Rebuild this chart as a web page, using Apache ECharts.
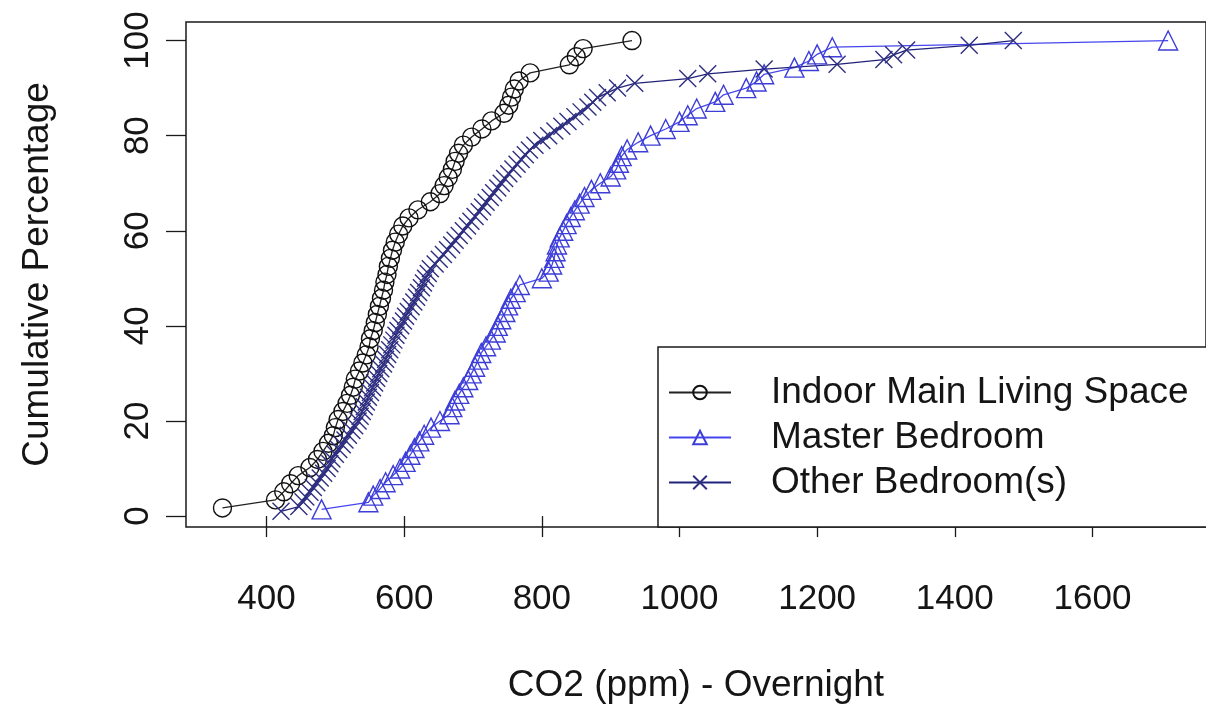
<!DOCTYPE html>
<html>
<head>
<meta charset="utf-8">
<title>CO2 (ppm) - Overnight</title>
<script src="https://cdn.jsdelivr.net/npm/echarts@6/dist/echarts.min.js"></script>
<style>
  html, body { margin: 0; padding: 0; background: #ffffff; }
  #chart { width: 1206px; height: 709px; }
</style>
</head>
<body>
<div id="chart"></div>
<script>
// Overnight CO2 readings (ppm) sorted, with their cumulative percentage
const livingCO2 = [336, 413, 425, 435, 446, 463, 474, 482, 490, 497,
  500, 504, 511, 517, 522, 526, 529, 535, 540, 545,
  549, 551, 555, 558, 561, 564, 567, 570, 572, 575,
  577, 580, 583, 587, 592, 598, 607, 620, 638, 652,
  658, 664, 670, 674, 679, 686, 698, 713, 727, 745,
  752, 756, 760, 767, 783, 840, 850, 860, 931];
const livingPct = [1.7, 3.4, 5.1, 6.8, 8.5, 10.2, 11.9, 13.6, 15.3, 16.9,
  18.6, 20.3, 22.0, 23.7, 25.4, 27.1, 28.8, 30.5, 32.2, 33.9,
  35.6, 37.3, 39.0, 40.7, 42.4, 44.1, 45.8, 47.5, 49.2, 50.8,
  52.5, 54.2, 55.9, 57.6, 59.3, 61.0, 62.7, 64.4, 66.1, 67.8,
  69.5, 71.2, 72.9, 74.6, 76.3, 78.0, 79.7, 81.4, 83.1, 84.7,
  86.4, 88.1, 89.8, 91.5, 93.2, 94.9, 96.6, 98.3, 100];

const masterCO2 = [480, 548, 555, 565, 573, 584, 594, 602, 609, 615,
  622, 629, 639, 652, 666, 670, 674, 680, 686, 693,
  698, 703, 708, 712, 719, 726, 733, 736, 741, 747,
  751, 755, 762, 768, 800, 810, 815, 818, 820, 822,
  826, 831, 836, 842, 848, 855, 862, 872, 885, 900,
  908, 912, 916, 924, 940, 958, 980, 1000, 1012, 1025,
  1052, 1064, 1097, 1112, 1123, 1167, 1188, 1200, 1222, 1710];
const masterPct = [1.4, 2.9, 4.3, 5.7, 7.1, 8.6, 10.0, 11.4, 12.9, 14.3,
  15.7, 17.1, 18.6, 20.0, 21.4, 22.9, 24.3, 25.7, 27.1, 28.6,
  30.0, 31.4, 32.9, 34.3, 35.7, 37.1, 38.6, 40.0, 41.4, 42.9,
  44.3, 45.7, 47.1, 48.6, 50.0, 51.4, 52.9, 54.3, 55.7, 57.1,
  58.6, 60.0, 61.4, 62.9, 64.3, 65.7, 67.1, 68.6, 70.0, 71.4,
  72.9, 74.3, 75.7, 77.1, 78.6, 80.0, 81.4, 82.9, 84.3, 85.7,
  87.1, 88.6, 90.0, 91.4, 92.9, 94.3, 95.7, 97.1, 98.6, 100];

const otherCO2 = [421, 447, 453, 457, 463, 468, 473, 478, 483, 488,
  492, 495, 500, 505, 510, 514, 519, 524, 528, 533,
  536, 539, 542, 545, 548, 551, 554, 557, 560, 563,
  566, 570, 573, 576, 579, 582, 585, 588, 591, 595,
  599, 602, 606, 610, 614, 618, 621, 625, 628, 631,
  635, 638, 645, 651, 657, 663, 669, 674, 680, 686,
  692, 697, 703, 709, 714, 719, 725, 730, 736, 741,
  746, 752, 758, 764, 770, 776, 782, 790, 800, 810,
  819, 829, 838, 848, 857, 867, 874, 881, 895, 910,
  935, 1012, 1041, 1123, 1229, 1297, 1311, 1330, 1421, 1485];
const otherPct = [1, 2, 3, 4, 5, 6, 7, 8, 9, 10,
  11, 12, 13, 14, 15, 16, 17, 18, 19, 20,
  21, 22, 23, 24, 25, 26, 27, 28, 29, 30,
  31, 32, 33, 34, 35, 36, 37, 38, 39, 40,
  41, 42, 43, 44, 45, 46, 47, 48, 49, 50,
  51, 52, 53, 54, 55, 56, 57, 58, 59, 60,
  61, 62, 63, 64, 65, 66, 67, 68, 69, 70,
  71, 72, 73, 74, 75, 76, 77, 78, 79, 80,
  81, 82, 83, 84, 85, 86, 87, 88, 89, 90,
  91, 92, 93, 94, 95, 96, 97, 98, 99, 100];

const seriesNames = ['Indoor Main Living Space', 'Master Bedroom', 'Other Bedroom(s)'];
const xTicks = [400, 600, 800, 1000, 1200, 1400, 1600];
const yTicks = [0, 20, 40, 60, 80, 100];

const FONT = "'Liberation Sans', Arial, Helvetica, sans-serif";
const INK = '#151515';

function pairs(xs, ys) {
  return xs.map((x, i) => [x, ys[i]]);
}

function lineSeries(name, data, symbol, size, markerColor, lineColor) {
  return {
    name: name,
    type: 'line',
    data: data,
    symbol: symbol,
    symbolSize: size,
    showAllSymbol: true,
    clip: false,
    lineStyle: { color: lineColor, width: 1.3 },
    itemStyle: { color: 'rgba(0,0,0,0)', borderColor: markerColor, borderWidth: 1.4 },
    emphasis: { disabled: true }
  };
}

const plainNumber = (v) => String(v);

const chart = echarts.init(document.getElementById('chart'), null, { renderer: 'canvas' });

chart.setOption({
  animation: false,
  backgroundColor: '#ffffff',
  textStyle: { fontFamily: FONT, color: INK },
  grid: {
    left: 186, top: 22, width: 1025, height: 505,
    show: true, borderColor: '#1a1a1a', borderWidth: 1.5,
    backgroundColor: 'rgba(0,0,0,0)'
  },
  // legend frame, running off the right edge of the page like the plot box
  graphic: [{
    type: 'rect',
    x: 658, y: 347, z: 3,
    shape: { x: 0, y: 0, width: 600, height: 180 },
    style: { fill: '#ffffff', stroke: '#1a1a1a', lineWidth: 1.5 }
  }],
  xAxis: {
    type: 'value',
    min: 283, max: 1765,
    name: 'CO2 (ppm) - Overnight',
    nameLocation: 'middle',
    nameGap: 140,
    nameTextStyle: { fontSize: 37, color: INK, fontFamily: FONT },
    axisLine: { show: false },
    splitLine: { show: false },
    axisTick: { show: true, inside: false, length: 21, customValues: xTicks,
      lineStyle: { color: '#1a1a1a', width: 1.3 } },
    axisLabel: { show: true, customValues: xTicks, formatter: plainNumber, margin: 55,
      fontSize: 35, color: INK, fontFamily: FONT }
  },
  yAxis: {
    type: 'value',
    min: -2.3, max: 103.9,
    name: 'Cumulative Percentage',
    nameLocation: 'middle',
    nameGap: 130,
    nameRotate: 90,
    nameTextStyle: { fontSize: 37, color: INK, fontFamily: FONT },
    axisLine: { show: false },
    splitLine: { show: false },
    axisTick: { show: true, inside: false, length: 20, customValues: yTicks,
      lineStyle: { color: '#1a1a1a', width: 1.3 } },
    axisLabel: { show: true, customValues: yTicks, formatter: plainNumber, rotate: 90, margin: 30,
      fontSize: 35, color: INK, fontFamily: FONT }
  },
  legend: {
    show: true,
    orient: 'vertical',
    left: 658, top: 347, z: 5,
    data: seriesNames,
    itemWidth: 62, itemHeight: 17, itemGap: 0,
    padding: [23, 10, 22, 10],
    borderWidth: 0,
    selectedMode: false,
    textStyle: { fontSize: 37, lineHeight: 45, color: INK, fontFamily: FONT, padding: [0, 0, 0, 35] }
  },
  series: [
    lineSeries(seriesNames[0], pairs(livingCO2, livingPct), 'circle', 18, '#111111', '#222222'),
    lineSeries(seriesNames[1], pairs(masterCO2, masterPct), 'triangle', 19, '#3d3dd8', '#4646ee'),
    lineSeries(seriesNames[2], pairs(otherCO2, otherPct), 'path://M0,0L10,10M10,0L0,10', 17, '#2e2e80', '#22227a')
  ]
});
</script>
</body>
</html>
